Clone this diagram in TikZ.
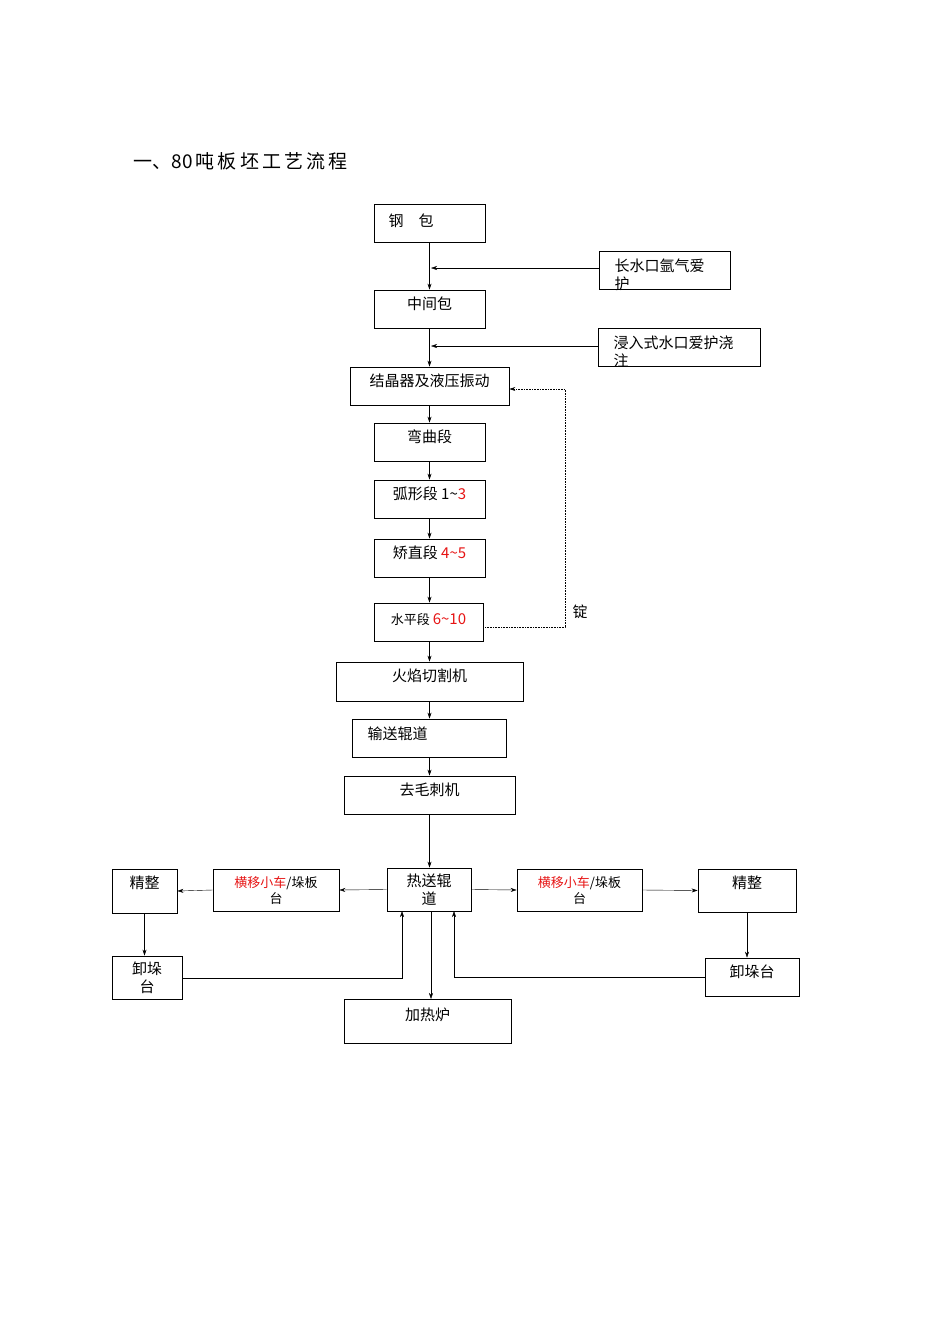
\documentclass[tikz,border=0pt]{standalone}
\usepackage{fontspec}
\setmainfont{Liberation Serif}
\newfontfamily\cjk{Noto Sans CJK SC}
\usetikzlibrary{arrows.meta}
\begin{document}
\begin{tikzpicture}[x=1pt,y=-1pt,
  bx/.style={draw,thick,inner sep=0pt},
  ar/.style={-{Stealth[length=6pt,width=4pt]}},
  lab/.style={font=\cjk\fontsize{15}{17}\selectfont,anchor=north,align=center}]
\useasboundingbox (0,0) rectangle (950,1344);
\definecolor{rd}{RGB}{230,20,20}
\node[anchor=west,font=\cjk\fontsize{19}{21}\selectfont] (title) at (130,161) {一、80\,吨\,板\,坯\,工\,艺\,流\,程};
\node[bx,minimum width=111,minimum height=38] (gb) at (429.5,223) {};
\node[anchor=west,font=\cjk\fontsize{15}{17}\selectfont] at (385,221) {钢\quad 包};
\node[bx,minimum width=131,minimum height=38] (cs) at (664.5,270) {};
\node[anchor=north west,font=\cjk\fontsize{15}{18}\selectfont,align=left] at (611,255) {长水口氩气爱\\护};
\node[bx,minimum width=111,minimum height=38] (zj) at (429.5,309) {};
\node[lab] at (zj.north) [yshift=-4] {中间包};
\node[bx,minimum width=162,minimum height=38] (jr) at (679,347) {};
\node[anchor=north west,font=\cjk\fontsize{15}{18}\selectfont,align=left] at (610,332) {浸入式水口爱护浇\\注};
\node[bx,minimum width=159,minimum height=38] (jj) at (429.5,386) {};
\node[lab] at (jj.north) [yshift=-4] {结晶器及液压振动};
\node[bx,minimum width=111,minimum height=38] (wq) at (429.5,442) {};
\node[lab] at (wq.north) [yshift=-4] {弯曲段};
\node[bx,minimum width=111,minimum height=38] (hx) at (429.5,499) {};
\node[lab] at (hx.north) [yshift=-4] {弧形段 1\textasciitilde\textcolor{rd}{3}};
\node[bx,minimum width=111,minimum height=38] (jz) at (429.5,558) {};
\node[lab] at (jz.north) [yshift=-4] {矫直段 \textcolor{rd}{4\textasciitilde5}};
\node[bx,minimum width=109,minimum height=38] (sp) at (428.5,622) {};
\node[lab,font=\cjk\fontsize{13}{15}\selectfont] at (sp.north) [yshift=-7] {水平段 \fontsize{15}{17}\selectfont\textcolor{rd}{6\textasciitilde10}};
\node[bx,minimum width=187,minimum height=39] (hy) at (429.5,681.5) {};
\node[lab] at (hy.north) [yshift=-4] {火焰切割机};
\node[bx,minimum width=154,minimum height=38] (ss) at (429,738) {};
\node[anchor=north west,font=\cjk\fontsize{15}{17}\selectfont] at (364,723) {输送辊道};
\node[bx,minimum width=171,minimum height=38] (qm) at (429.5,795) {};
\node[lab] at (qm.north) [yshift=-4] {去毛刺机};
\node[bx,minimum width=84,minimum height=43] (rs) at (429,889.5) {};
\node[lab,font=\cjk\fontsize{15}{18}\selectfont] at (rs.north) [yshift=-3] {热送辊\\道};
\node[bx,minimum width=126,minimum height=42] (hl) at (276,890) {};
\node[lab,font=\cjk\fontsize{13}{16}\selectfont] at (hl.north) [yshift=-4] {\textcolor{rd}{横移小车}/垛板\\台};
\node[bx,minimum width=125,minimum height=42] (hr) at (579.5,890) {};
\node[lab,font=\cjk\fontsize{13}{16}\selectfont] at (hr.north) [yshift=-4] {\textcolor{rd}{横移小车}/垛板\\台};
\node[bx,minimum width=65,minimum height=44] (jl) at (144.5,891) {};
\node[lab] at (jl.north) [yshift=-4] {精整};
\node[bx,minimum width=98,minimum height=43] (jrr) at (747,890.5) {};
\node[lab] at (jrr.north) [yshift=-4] {精整};
\node[bx,minimum width=70,minimum height=43] (xl) at (147,977.5) {};
\node[lab,font=\cjk\fontsize{15}{18}\selectfont] at (xl.north) [yshift=-3] {卸垛\\台};
\node[bx,minimum width=94,minimum height=38] (xr) at (752,977) {};
\node[lab] at (xr.north) [yshift=-4] {卸垛台};
\node[bx,minimum width=167,minimum height=44] (jrl) at (427.5,1021) {};
\node[lab] at (jrl.north) [yshift=-6] {加热炉};
\node[font=\cjk\fontsize{15}{17}\selectfont] (ding) at (580,612) {锭};
\draw[ar] (gb) -- (zj);
\draw[ar] (zj) -- (jj);
\draw[ar] (jj) -- (wq);
\draw[ar] (wq) -- (hx);
\draw[ar] (hx) -- (jz);
\draw[ar] (jz) -- (sp.north -| jz.south);
\draw[ar] (sp.south -| jz.south) -- (hy.north -| jz.south);
\draw[ar] (hy.south -| jz.south) -- (ss.north -| jz.south);
\draw[ar] (ss.south -| jz.south) -- (qm.north -| jz.south);
\draw[ar] (qm.south -| jz.south) -- (rs.north -| jz.south);
\draw[ar] (cs.west |- 0,268) -- (431,268);
\draw[ar] (jr.west |- 0,346) -- (431,346);
\draw[ar,densely dotted,semithick] (sp.east |- 0,627) -- (565,627) -- (565,389) -- (jj.east |- 0,389);
\draw[ar] (rs.west) -- (hl.east);
\draw[ar] (hl.west) -- (jl.east);
\draw[ar] (rs.east) -- (hr.west);
\draw[ar] (hr.east) -- (jrr.west);
\draw[ar] (jl) -- (xl.north -| jl);
\draw[ar] (jrr) -- (xr.north -| jrr);
\draw[ar] (xl.east |- 0,978) -- (402,978) -- (402,911);
\draw[ar] (xr.west |- 0,977) -- (454,977) -- (454,911);
\draw[ar] (431,911) -- (431,999);
\end{tikzpicture}
\end{document}
